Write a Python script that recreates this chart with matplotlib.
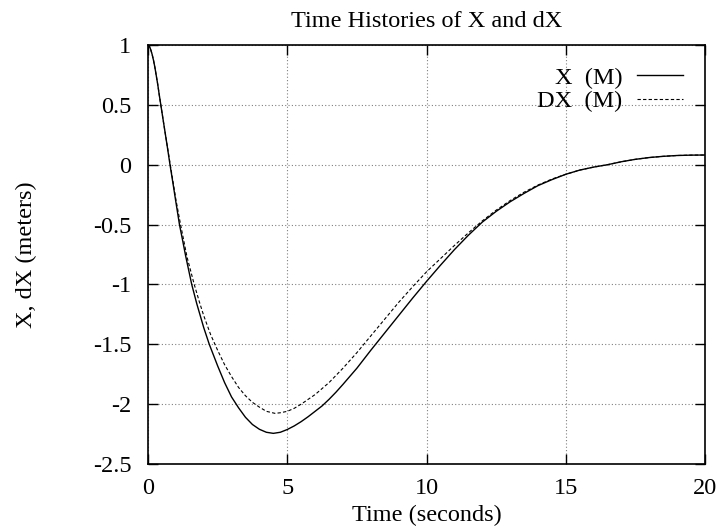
import matplotlib
matplotlib.use('Agg')
import matplotlib.pyplot as plt

plt.rcParams['font.family'] = 'Liberation Serif'

# values
t_x = [0, 0.05, 0.1, 0.15, 0.2, 0.25, 0.3, 0.35, 0.4, 0.45, 0.5, 0.6, 0.7,
       0.79, 0.9, 1.0, 1.13, 1.25, 1.35, 1.57, 1.75, 2.0, 2.2, 2.5, 2.75,
       3.0, 3.25, 3.5, 3.75, 4.0, 4.25, 4.5, 4.75, 5.0, 5.25, 5.5, 5.75,
       6.0, 6.25, 6.5, 6.75, 7.0, 7.5, 8.0, 8.5, 9.0, 9.5, 10.0, 10.5, 11.0,
       11.5, 12.0, 12.5, 13.0, 13.5, 14.0, 14.5, 15.0, 15.5, 16.0, 16.5,
       17.0, 17.5, 18.0, 18.5, 19.0, 19.5, 20.0]
x_m = [1.0, 0.99, 0.96, 0.92, 0.87, 0.81, 0.74, 0.67, 0.59, 0.515, 0.44,
       0.29, 0.14, 0.0, -0.16, -0.31, -0.5, -0.64, -0.76, -1.0, -1.16,
       -1.36, -1.5, -1.68, -1.82, -1.94, -2.03, -2.11, -2.17, -2.21, -2.235,
       -2.244, -2.235, -2.212, -2.182, -2.146, -2.105, -2.06, -2.015, -1.96,
       -1.9, -1.835, -1.7, -1.55, -1.405, -1.26, -1.115, -0.975, -0.84,
       -0.71, -0.59, -0.48, -0.39, -0.31, -0.24, -0.175, -0.125, -0.08,
       -0.045, -0.02, 0.0, 0.025, 0.045, 0.06, 0.07, 0.077, 0.08, 0.081]

t_dx = [0, 0.05, 0.1, 0.15, 0.2, 0.25, 0.3, 0.35, 0.4, 0.45, 0.5, 0.6, 0.7,
        0.8, 0.9, 1.0, 1.17, 1.4, 1.66, 1.85, 2.0, 2.25, 2.5, 2.75, 3.0,
        3.25, 3.5, 3.75, 4.0, 4.25, 4.56, 4.75, 5.0, 5.25, 5.5, 5.75, 6.0,
        6.5, 7.0, 7.5, 8.0, 8.5, 9.0, 9.5, 10.0, 10.5, 11.0, 11.5, 12.0,
        12.5, 13.0, 13.5, 14.0, 14.5, 15.0, 15.5, 16.0, 16.5, 17.0, 17.5,
        18.0, 18.5, 19.0, 19.5, 20.0]
dx_m = [1.0, 0.99, 0.96, 0.92, 0.87, 0.81, 0.74, 0.67, 0.59, 0.515, 0.44,
        0.29, 0.145, 0.0, -0.145, -0.29, -0.5, -0.77, -1.0, -1.15, -1.26,
        -1.42, -1.55, -1.67, -1.77, -1.86, -1.93, -1.985, -2.025, -2.06,
        -2.077, -2.072, -2.06, -2.035, -2.0, -1.96, -1.92, -1.82, -1.7,
        -1.57, -1.43, -1.29, -1.15, -1.02, -0.895, -0.785, -0.675, -0.57,
        -0.47, -0.38, -0.3, -0.23, -0.17, -0.12, -0.08, -0.045, -0.02, 0.0,
        0.025, 0.045, 0.06, 0.07, 0.077, 0.08, 0.081]

xticks = [0, 5, 10, 15, 20]
yticks = [1, 0.5, 0, -0.5, -1, -1.5, -2, -2.5]
ytick_labels = ['1', '0.5', '0', '-0.5', '-1', '-1.5', '-2', '-2.5']

fs = 17.5

fig = plt.figure(figsize=(7.17, 5.27), dpi=100)
ax = fig.add_axes([148 / 717, 1 - 464 / 527, 557 / 717, 419 / 527])

ax.plot(t_x, x_m, color='black', lw=1.0, label='X  (M)')
ax.plot(t_dx, dx_m, color='black', lw=0.8, linestyle=(0, (3, 2)), label='DX  (M)')

ax.set_xlim(0, 20)
ax.set_ylim(-2.5, 1)
ax.set_xticks(xticks)
ax.set_yticks(yticks)
ax.set_yticklabels(ytick_labels)
ax.tick_params(direction='in', length=7, width=1, top=True, right=True,
               labelsize=fs)
ax.tick_params(axis='y', pad=12)
ax.tick_params(axis='x', pad=10)
ax.grid(True, color='gray', linestyle=(0, (1, 2)), linewidth=0.8)
for s in ax.spines.values():
    s.set_linewidth(1.2)

ax.set_title('Time Histories of X and dX', fontsize=fs, pad=13)
ax.set_xlabel('Time (seconds)', fontsize=fs, labelpad=4)
ax.set_ylabel('X, dX (meters)', fontsize=fs, labelpad=40)

ax.legend(loc='upper right', frameon=False, markerfirst=False, fontsize=fs,
          handlelength=1.9, labelspacing=0.05, borderaxespad=0.5,
          handletextpad=0.6)

fig.savefig('out.png', dpi=100)
